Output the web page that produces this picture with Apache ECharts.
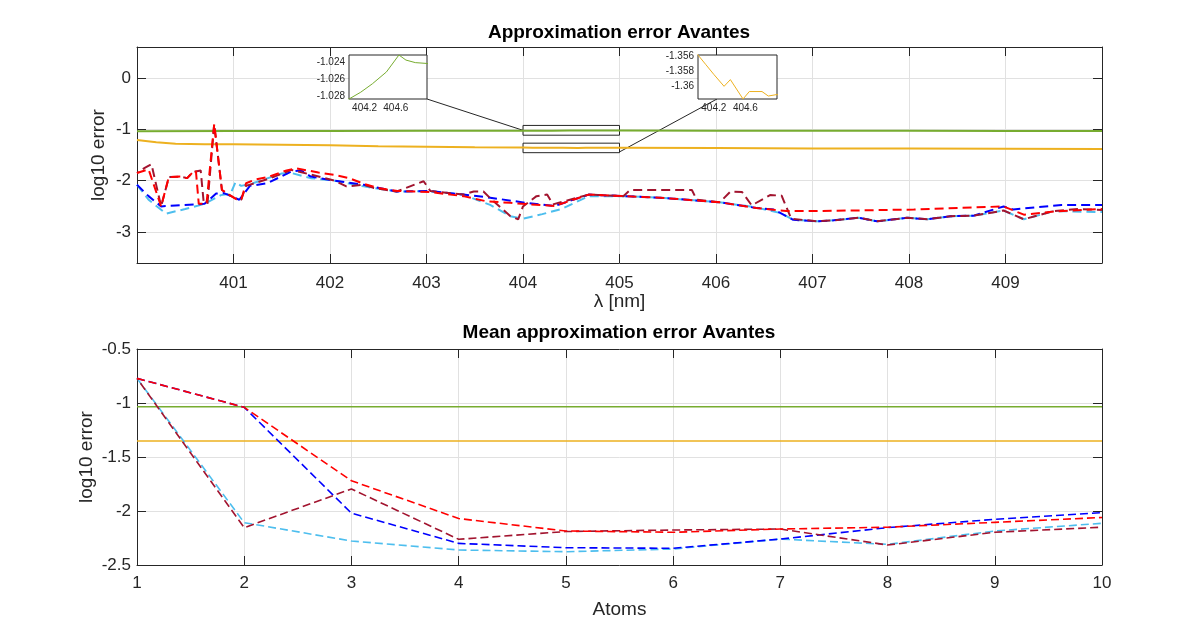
<!DOCTYPE html>
<html>
<head>
<meta charset="utf-8">
<script src="https://cdn.jsdelivr.net/npm/echarts@6.0.0/dist/echarts.min.js"></script>
<style>
  html, body { margin: 0; padding: 0; background: #fff; }
  #chart { width: 1196px; height: 636px; }
</style>
</head>
<body>
<div id="chart"></div>
<script>
// ---- data: top panel, log10 error per wavelength [nm, log10 err] ----
const greenTop = [[400.0,-1.040],[401.0,-1.035],[402.0,-1.033],[403.0,-1.030],[404.0,-1.0283],[404.15,-1.0275],[404.3,-1.0265],[404.48,-1.0251],[404.64,-1.0231],[404.73,-1.0237],[404.85,-1.0240],[405.0,-1.0241],[406.0,-1.027],[407.0,-1.028],[408.0,-1.030],[409.0,-1.031],[410.0,-1.033]]
const orangeTop = [[400.0,-1.21],[400.2,-1.25],[400.4,-1.28],[400.7,-1.29],[401.0,-1.29],[401.5,-1.30],[402.0,-1.31],[402.5,-1.33],[403.0,-1.34],[403.5,-1.35],[404.0,-1.3558],[404.1,-1.3571],[404.2,-1.3584],[404.33,-1.3600],[404.41,-1.3591],[404.57,-1.3617],[404.65,-1.3607],[404.81,-1.3607],[404.89,-1.3613],[405.0,-1.3611],[406.0,-1.366],[407.0,-1.372],[408.0,-1.375],[409.0,-1.378],[410.0,-1.382]]
const redTop = [[400.00,-1.85],[400.12,-1.78],[400.25,-2.50],[400.33,-1.93],[400.45,-1.92],[400.52,-1.95],[400.58,-1.83],[400.61,-1.80],[400.64,-2.45],[400.72,-2.45],[400.80,-0.90],[400.88,-2.18],[400.96,-2.28],[401.03,-2.36],[401.08,-2.37],[401.13,-2.05],[401.22,-1.98],[401.37,-1.92],[401.55,-1.80],[401.65,-1.76],[401.88,-1.84],[402.05,-1.89],[402.20,-1.95],[402.35,-2.06],[402.50,-2.14],[402.70,-2.20],[403.04,-2.22],[403.38,-2.30],[403.62,-2.40],[403.87,-2.43],[404.07,-2.46],[404.33,-2.49],[404.68,-2.27],[405.04,-2.30],[405.42,-2.33],[406.04,-2.42],[406.42,-2.53],[406.73,-2.59],[407.05,-2.59],[408.05,-2.56],[408.98,-2.50],[409.19,-2.66],[409.50,-2.60],[410.00,-2.55]]
const blueTop = [[400.00,-2.08],[400.12,-2.30],[400.25,-2.50],[400.40,-2.48],[400.70,-2.45],[400.82,-2.25],[400.90,-2.24],[401.06,-2.37],[401.17,-2.10],[401.35,-2.05],[401.60,-1.82],[401.70,-1.80],[401.80,-1.92],[402.05,-2.00],[402.35,-2.08],[402.69,-2.21],[403.04,-2.20],[403.38,-2.27],[403.66,-2.33],[404.03,-2.43],[404.33,-2.49],[404.68,-2.27],[405.04,-2.30],[405.42,-2.33],[406.04,-2.42],[406.42,-2.53],[406.60,-2.56],[406.80,-2.76],[407.05,-2.79],[407.22,-2.77],[407.48,-2.72],[407.67,-2.79],[407.98,-2.72],[408.19,-2.75],[408.43,-2.69],[408.67,-2.68],[408.98,-2.50],[409.08,-2.56],[409.58,-2.47],[410.00,-2.47]]
const lightBlueTop = [[400.00,-2.08],[400.12,-2.37],[400.30,-2.64],[400.50,-2.55],[400.70,-2.45],[400.87,-2.28],[400.97,-2.25],[401.02,-2.03],[401.08,-2.10],[401.20,-2.05],[401.50,-1.86],[401.60,-1.85],[401.80,-1.95],[402.05,-2.00],[402.35,-2.11],[402.69,-2.21],[403.00,-2.20],[403.38,-2.27],[403.66,-2.47],[403.87,-2.69],[404.00,-2.74],[404.20,-2.65],[404.40,-2.55],[404.68,-2.30],[405.04,-2.30],[405.42,-2.33],[406.04,-2.42],[406.42,-2.52],[406.67,-2.63],[406.80,-2.76],[407.05,-2.79],[407.22,-2.77],[407.48,-2.72],[407.67,-2.79],[407.98,-2.72],[408.19,-2.75],[408.43,-2.69],[408.67,-2.68],[408.98,-2.58],[409.19,-2.75],[409.50,-2.59],[410.00,-2.61]]
const darkRedTop = [[400.00,-1.85],[400.08,-1.75],[400.15,-1.68],[400.25,-2.50],[400.33,-1.93],[400.45,-1.92],[400.52,-1.95],[400.58,-1.83],[400.66,-1.80],[400.69,-2.40],[400.73,-2.45],[400.80,-0.90],[400.88,-2.18],[400.96,-2.28],[401.03,-2.36],[401.08,-2.37],[401.13,-2.10],[401.37,-1.96],[401.60,-1.79],[401.80,-1.88],[402.05,-2.00],[402.17,-2.11],[402.35,-2.08],[402.45,-2.14],[402.69,-2.21],[402.97,-2.01],[403.04,-2.20],[403.38,-2.27],[403.49,-2.21],[403.59,-2.21],[403.66,-2.34],[403.87,-2.69],[403.95,-2.75],[404.00,-2.50],[404.14,-2.30],[404.25,-2.27],[404.31,-2.46],[404.68,-2.27],[405.04,-2.30],[405.11,-2.18],[405.75,-2.18],[405.80,-2.37],[406.04,-2.42],[406.15,-2.21],[406.27,-2.22],[406.37,-2.48],[406.56,-2.28],[406.68,-2.29],[406.78,-2.74],[407.05,-2.79],[407.22,-2.77],[407.48,-2.72],[407.67,-2.79],[407.98,-2.72],[408.19,-2.75],[408.43,-2.69],[408.67,-2.68],[408.98,-2.58],[409.19,-2.75],[409.50,-2.59],[409.75,-2.55],[410.00,-2.57]]

// zoom boxes + insets (data units)
const zoomBoxX = [404, 405]
const greenBoxY = [-1.115, -0.925]
const orangeBoxY = [-1.455, -1.27]
const insetX = [404, 405]
const insetXTicks = [404.2, 404.6]
const greenInsetY = [-1.0283, -1.0231]
const greenInsetTicks = [-1.028, -1.026, -1.024]
const orangeInsetY = [-1.3617, -1.3558]
const orangeInsetTicks = [-1.36, -1.358, -1.356]
// connector anchors: [point in main plot, point on inset edge]
const greenLink = [[404, -1.02], [405, -1.0283]]
const orangeLink = [[405, -1.44], [404.24, -1.3617]]

// ---- data: bottom panel, mean error per number of atoms ----
const atoms = [1, 2, 3, 4, 5, 6, 7, 8, 9, 10]
const greenMean = [-1.034, -1.034, -1.034, -1.034, -1.034, -1.034, -1.034, -1.034, -1.034, -1.034]
const orangeMean = [-1.352, -1.352, -1.352, -1.352, -1.352, -1.352, -1.352, -1.352, -1.352, -1.352]
const redMean = [-0.772, -1.04, -1.72, -2.07, -2.185, -2.197, -2.167, -2.15, -2.105, -2.06]
const blueMean = [-0.772, -1.04, -2.02, -2.30, -2.34, -2.345, -2.26, -2.154, -2.077, -2.015]
const darkRedMean = [-0.772, -2.154, -1.796, -2.262, -2.19, -2.176, -2.167, -2.315, -2.197, -2.15]
const lightBlueMean = [-0.772, -2.108, -2.278, -2.361, -2.377, -2.352, -2.26, -2.309, -2.185, -2.114]

const FONT = 'Liberation Sans, Arial, Helvetica, sans-serif'
const INK = '#262626'
const C = { green: '#77AC30', orange: '#EDB120', red: '#FF0000', blue: '#0000FF', lightBlue: '#4DBEEE', darkRed: '#A2142F' }

const pair = (vals) => atoms.map((a, i) => [a, vals[i]])

// main axis (labels + inner ticks + grid lines)
function mainAxis(extra) {
  return Object.assign({
    type: 'value',
    axisLine: { show: true, onZero: false, lineStyle: { color: INK, width: 1 } },
    axisTick: { show: true, inside: true, length: 9, lineStyle: { color: INK } },
    axisLabel: { color: INK, fontSize: 17, fontFamily: FONT },
    splitLine: { show: true, showMinLine: false, showMaxLine: false, lineStyle: { color: '#e1e1e1', width: 1 } },
    nameTextStyle: { color: INK, fontSize: 19, fontFamily: FONT },
    nameLocation: 'middle',
    nameMoveOverlap: false
  }, extra)
}
// mirror axis: box side + ticks only
function mirrorAxis(extra) {
  return Object.assign({
    type: 'value',
    axisLine: { show: true, onZero: false, lineStyle: { color: INK, width: 1 } },
    axisTick: { show: true, inside: true, length: 9, lineStyle: { color: INK } },
    axisLabel: { show: false },
    splitLine: { show: false }
  }, extra)
}
function insetAxis(extra) {
  return Object.assign({
    type: 'value',
    z: 11,
    axisLine: { show: false, onZero: false },
    axisTick: { show: false },
    axisLabel: { color: INK, fontSize: 10, fontFamily: FONT, margin: 4 },
    splitLine: { show: false }
  }, extra)
}

function line(name, data, color, width, dashed, xi, yi, extra) {
  return Object.assign({
    name, type: 'line', data, xAxisIndex: xi, yAxisIndex: yi,
    symbol: 'none', silent: true,
    lineStyle: { color, width, type: dashed ? [9, 5] : 'solid' }
  }, extra)
}
const boxArea = (ys) => ({
  silent: true,
  itemStyle: { color: 'rgba(0,0,0,0)', borderColor: INK, borderWidth: 1 },
  data: [[{ xAxis: zoomBoxX[0], yAxis: ys[1] }, { xAxis: zoomBoxX[1], yAxis: ys[0] }]]
})

const chart = echarts.init(document.getElementById('chart'), null, { renderer: 'canvas' })

const option = {
  animation: false,
  backgroundColor: '#fff',
  textStyle: { fontFamily: FONT },
  title: [
    { text: 'Approximation error Avantes', left: 619, top: 23, textAlign: 'center', padding: 0,
      textStyle: { fontSize: 19, fontWeight: 'bold', color: '#000', fontFamily: FONT } },
    { text: 'Mean approximation error Avantes', left: 619, top: 323, textAlign: 'center', padding: 0,
      textStyle: { fontSize: 19, fontWeight: 'bold', color: '#000', fontFamily: FONT } }
  ],
  grid: [
    { left: 137, right: 94, top: 47, height: 216 },
    { left: 137, right: 94, top: 349, height: 216 },
    { left: 349, top: 55, width: 78, height: 44, show: true, z: 10, backgroundColor: '#fff', borderColor: INK, borderWidth: 1 },
    { left: 698, top: 55, width: 79, height: 44, show: true, z: 10, backgroundColor: '#fff', borderColor: INK, borderWidth: 1 }
  ],
  xAxis: [
    mainAxis({ gridIndex: 0, min: 400, max: 410, interval: 1, name: 'λ [nm]', nameGap: 29,
      axisLabel: { color: INK, fontSize: 17, fontFamily: FONT, margin: 12, showMinLabel: false, showMaxLabel: false } }),
    mirrorAxis({ gridIndex: 0, position: 'top', min: 400, max: 410, interval: 1 }),
    mainAxis({ gridIndex: 1, min: 1, max: 10, interval: 1, name: 'Atoms', nameGap: 35,
      axisLabel: { color: INK, fontSize: 17, fontFamily: FONT, margin: 10 } }),
    mirrorAxis({ gridIndex: 1, position: 'top', min: 1, max: 10, interval: 1 }),
    insetAxis({ gridIndex: 2, min: insetX[0], max: insetX[1], axisLabel: { color: INK, fontSize: 10, fontFamily: FONT, margin: 4, customValues: insetXTicks } }),
    insetAxis({ gridIndex: 3, min: insetX[0], max: insetX[1], axisLabel: { color: INK, fontSize: 10, fontFamily: FONT, margin: 4, customValues: insetXTicks } })
  ],
  yAxis: [
    mainAxis({ gridIndex: 0, min: -3.6, max: 0.6, minInterval: 1, maxInterval: 1, name: 'log10 error', nameGap: 29,
      axisLabel: { color: INK, fontSize: 17, fontFamily: FONT, margin: 6, showMinLabel: false, showMaxLabel: false } }),
    mirrorAxis({ gridIndex: 0, position: 'right', min: -3.6, max: 0.6, minInterval: 1, maxInterval: 1 }),
    mainAxis({ gridIndex: 1, min: -2.5, max: -0.5, interval: 0.5, name: 'log10 error', nameGap: 41,
      axisLabel: { color: INK, fontSize: 17, fontFamily: FONT, margin: 6 } }),
    mirrorAxis({ gridIndex: 1, position: 'right', min: -2.5, max: -0.5, interval: 0.5 }),
    insetAxis({ gridIndex: 2, min: greenInsetY[0], max: greenInsetY[1],
      axisLabel: { color: INK, fontSize: 10, fontFamily: FONT, margin: 4, customValues: greenInsetTicks, formatter: (v) => v.toFixed(3) } }),
    insetAxis({ gridIndex: 3, min: orangeInsetY[0], max: orangeInsetY[1],
      axisLabel: { color: INK, fontSize: 10, fontFamily: FONT, margin: 4, customValues: orangeInsetTicks } })
  ],
  series: [
    // top panel
    line('green', greenTop, C.green, 2, false, 0, 0, { markArea: boxArea(greenBoxY) }),
    line('orange', orangeTop, C.orange, 2, false, 0, 0, { markArea: boxArea(orangeBoxY) }),
    line('lightblue', lightBlueTop, C.lightBlue, 2, true, 0, 0),
    line('blue', blueTop, C.blue, 2, true, 0, 0),
    line('darkred', darkRedTop, C.darkRed, 2, true, 0, 0, { lineStyle: { color: C.darkRed, width: 2, type: [9, 5], dashOffset: 7 } }),
    line('red', redTop, C.red, 2, true, 0, 0),
    // bottom panel
    line('green', pair(greenMean), C.green, 1.5, false, 2, 2),
    line('orange', pair(orangeMean), C.orange, 1.5, false, 2, 2),
    line('lightblue', pair(lightBlueMean), C.lightBlue, 1.6, true, 2, 2, { lineStyle: { color: C.lightBlue, width: 1.6, type: [8, 4] } }),
    line('blue', pair(blueMean), C.blue, 1.6, true, 2, 2, { lineStyle: { color: C.blue, width: 1.6, type: [8, 4] } }),
    line('darkred', pair(darkRedMean), C.darkRed, 1.6, true, 2, 2, { lineStyle: { color: C.darkRed, width: 1.6, type: [8, 4], dashOffset: 6 } }),
    line('red', pair(redMean), C.red, 1.6, true, 2, 2, { lineStyle: { color: C.red, width: 1.6, type: [8, 4] } }),
    // insets
    line('green-inset', greenTop, C.green, 1, false, 4, 4, { z: 12 }),
    line('orange-inset', orangeTop, C.orange, 1, false, 5, 5, { z: 12 })
  ]
}
chart.setOption(option)

// connector lines between the zoom boxes and their insets
function link(pts, insetIdx) {
  const a = chart.convertToPixel({ xAxisIndex: 0, yAxisIndex: 0 }, pts[0])
  const b = chart.convertToPixel({ xAxisIndex: insetIdx, yAxisIndex: insetIdx }, pts[1])
  return { type: 'line', z: 1, silent: true, shape: { x1: a[0], y1: a[1], x2: b[0], y2: b[1] }, style: { stroke: INK, lineWidth: 1 } }
}
chart.setOption({ graphic: [link(greenLink, 4), link(orangeLink, 5)] })
</script>
</body>
</html>
